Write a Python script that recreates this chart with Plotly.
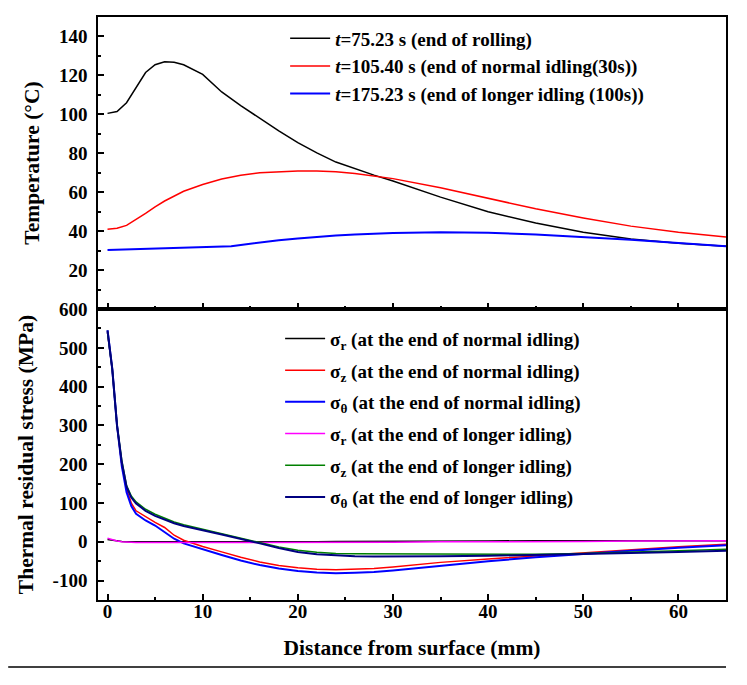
import plotly.graph_objects as go

# ---------- Temperature data (top panel) ----------
temp_x_black = [0, 1, 2, 3, 4, 5, 6, 7, 8, 10, 12, 14, 16, 18, 20, 22, 24, 26, 28, 30, 35, 40, 45, 50, 55, 60, 65]
temp_black = [100.5, 101.5, 106, 114, 121.5, 125.5, 127, 126.8, 125.5, 120.5, 111.5, 104.5, 97.8, 91.5, 85.5, 80.2,
              75.5, 72, 68.8, 65.8, 57.5, 50, 44.2, 39.5, 36, 33.8, 32.3]
temp_x_red = [0, 1, 2, 3, 4, 5, 6, 8, 10, 12, 14, 16, 18, 20, 22, 24, 26, 28, 30, 35, 40, 45, 50, 55, 60, 65]
temp_red = [41, 41.5, 43, 46, 49.2, 52.5, 55.5, 60.5, 64, 66.8, 68.7, 70, 70.6, 70.9, 70.9, 70.5, 69.6, 68.4, 67,
            62.3, 56.8, 51.5, 46.8, 42.6, 39.5, 37]
temp_x_blue = [0, 2, 4, 6, 8, 10, 12, 13, 14, 16, 18, 20, 22, 24, 26, 28, 30, 35, 40, 45, 50, 55, 60, 65]
temp_blue = [30.4, 30.7, 31, 31.3, 31.6, 31.9, 32.1, 32.3, 32.9, 34.2, 35.4, 36.3, 37.1, 37.8, 38.3, 38.8, 39.1,
             39.5, 39.2, 38.3, 37, 35.6, 34, 32.3]

temp_names = ["<i>t</i>=75.23 s (end of rolling)",
              "<i>t</i>=105.40 s (end of normal idling(30s))",
              "<i>t</i>=175.23 s (end of longer idling (100s))"]

# ---------- Stress data (bottom panel) ----------
stress_x = [0, 0.5, 1, 1.5, 2, 2.5, 3, 4, 5, 6, 7, 8, 9, 10, 12, 14, 16, 18, 20, 22, 24, 26, 28, 30, 35, 40, 45,
            50, 55, 60, 65]
sr_normal = [6, 4, 2, 1, 0, 0, -1, -1, -1, -1, -1, -1, -1, -1, -1, -1, 0, 0, 0, 0, 1, 1, 1, 1, 2, 2, 3, 3, 3, 3, 3]
sz_normal = [540, 445, 300, 200, 135, 100, 80, 64, 50, 37, 17, 4, -5, -12, -26, -40, -52, -61, -67, -71, -72, -71,
             -69, -65, -53, -44, -36, -28, -21, -13, -6]
st_normal = [545, 445, 300, 195, 128, 92, 72, 55, 42, 26, 8, -4, -12, -20, -34, -48, -60, -69, -75, -79, -81, -80,
             -78, -74, -62, -50, -40, -31, -23, -15, -9]
sr_longer = [9, 5, 2, 0, -1, -1.5, -2, -2, -2, -2, -2, -2, -2, -2, -2, -2, -2, -2, -2, -2, -1.5, -1.5, -1, -1, 0,
             0, 1, 1, 2, 2, 3]
sz_longer = [540, 445, 300, 210, 145, 118, 103, 84, 71, 60, 51, 44, 38, 33, 22, 10, -2, -13, -22, -27, -30, -31,
             -31, -31, -32, -32, -32, -30, -27, -23, -19]
st_longer = [545, 445, 300, 205, 142, 114, 99, 80, 67, 57, 48, 41, 35, 30, 19, 8, -4, -16, -26, -32, -35, -37,
             -38, -38, -37, -36, -34, -32, -29, -26, -23]

stress_names = ["σ<sub>r</sub> (at the end of normal idling)",
                "σ<sub>z</sub> (at the end of normal idling)",
                "σ<sub>θ</sub> (at the end of normal idling)",
                "σ<sub>r</sub> (at the end of longer idling)",
                "σ<sub>z</sub> (at the end of longer idling)",
                "σ<sub>θ</sub> (at the end of longer idling)"]

# axis ticks
x_ticks = [0, 10, 20, 30, 40, 50, 60]
x_minor = [5, 15, 25, 35, 45, 55, 65]
temp_ticks = [20, 40, 60, 80, 100, 120, 140]
temp_minor = [10, 30, 50, 70, 90, 110, 130, 150]
stress_ticks = [-100, 0, 100, 200, 300, 400, 500, 600]
stress_ticklabels = ["-100", "0", "100", "200", "300", "400", "500", "600"]
stress_minor = [-150, -50, 50, 150, 250, 350, 450, 550]

FONT = "Times New Roman, Liberation Serif, DejaVu Serif, serif"

fig = go.Figure()

temp_series = [(temp_x_black, temp_black, "#000000", 1.5),
               (temp_x_red, temp_red, "#ff0000", 1.5),
               (temp_x_blue, temp_blue, "#0000ff", 2)]
for i, (xs, ys, c, w) in enumerate(temp_series):
    fig.add_trace(go.Scatter(x=xs, y=ys, mode="lines", name=temp_names[i], line=dict(color=c, width=w),
                             xaxis="x2", yaxis="y2", legend="legend"))

stress_series = [(sr_normal, "#000000", 1.5), (sz_normal, "#ff0000", 1.5), (st_normal, "#0000ff", 2),
                 (sr_longer, "#ff00ff", 1.5), (sz_longer, "#008000", 1.5), (st_longer, "#000080", 2)]
for i, (ys, c, w) in enumerate(stress_series):
    fig.add_trace(go.Scatter(x=stress_x, y=ys, mode="lines", name=stress_names[i], line=dict(color=c, width=w),
                             xaxis="x", yaxis="y", legend="legend2", legendgroup=f"s{i}"))

tickfont = dict(family=FONT, size=19, color="black", weight="bold")
titlefont = dict(family=FONT, size=21.5, color="black", weight="bold")
axis_common = dict(showline=True, linecolor="black", linewidth=1.5, mirror=True, ticks="inside",
                   ticklen=6, tickwidth=1.5, tickcolor="black", showgrid=False, zeroline=False,
                   tickfont=tickfont)

fig.update_layout(
    width=739, height=677,
    margin=dict(l=90, r=21, t=9, b=85, autoexpand=False),
    paper_bgcolor="white", plot_bgcolor="white",
    font=dict(family=FONT),
    xaxis=dict(domain=[0, 1], range=[-1, 65], anchor="y", tickmode="array", tickvals=x_ticks,
               ticklabelstandoff=-7,
               minor=dict(tickmode="array", tickvals=x_minor, ticks="inside", ticklen=3, tickcolor="black"),
               title=dict(text="Distance from surface (mm)", font=titlefont, standoff=19),
               **axis_common),
    yaxis=dict(domain=[0, 0.499], range=[-150, 600], anchor="x", tickmode="array", tickvals=stress_ticks,
               ticktext=stress_ticklabels, ticklabelstandoff=5,
               minor=dict(tickmode="array", tickvals=stress_minor, ticks="inside", ticklen=3, tickcolor="black"),
               title=dict(text="Thermal residual stress (MPa)", font=titlefont, standoff=13),
               **axis_common),
    xaxis2=dict(domain=[0, 1], range=[-1, 65], anchor="y2", matches="x", showticklabels=False,
                tickmode="array", tickvals=x_ticks,
                minor=dict(tickmode="array", tickvals=x_minor, ticks="inside", ticklen=3, tickcolor="black"),
                **axis_common),
    yaxis2=dict(domain=[0.499, 1], range=[0, 150], anchor="x2", tickmode="array", tickvals=temp_ticks,
                ticklabelstandoff=5,
                minor=dict(tickmode="array", tickvals=temp_minor, ticks="inside", ticklen=3, tickcolor="black"),
                title=dict(text="Temperature (°C)", font=titlefont, standoff=13),
                **axis_common),
    legend=dict(x=0.298, y=0.996, xanchor="left", yanchor="top", bgcolor="rgba(0,0,0,0)", itemwidth=40,
                font=dict(family=FONT, size=19, color="black", weight="bold")),
    legend2=dict(x=0.29, y=0.481, xanchor="left", yanchor="top", bgcolor="rgba(0,0,0,0)", itemwidth=40,
                 font=dict(family=FONT, size=19, color="black", weight="bold"), tracegroupgap=4),
    showlegend=True,
)

fig.add_shape(type="line", xref="paper", yref="paper", x0=-0.143, x1=1.0, y0=-0.115, y1=-0.115,
              line=dict(color="black", width=1.5))

fig.write_html("out.html")
